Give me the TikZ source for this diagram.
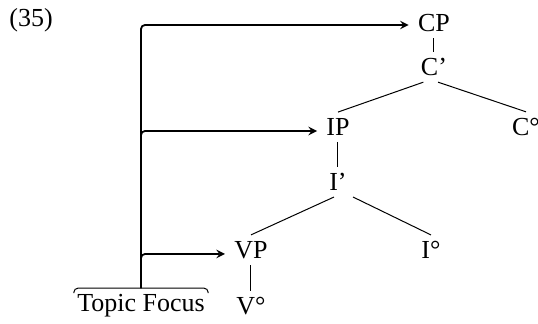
\documentclass[tikz,border=0pt]{standalone}
\usepackage{fontspec}
\setmainfont{Liberation Serif}
\usepackage{tikz}
\usetikzlibrary{arrows, positioning}

\begin{document}
\begin{tikzpicture}[x=0.5pt, y=0.5pt, on grid, >=stealth]
        \tikzstyle{cat} = [inner sep=3pt, font=\fontsize{13}{15}\selectfont]
        \tikzstyle{branch} = [line width=0.5pt]
        \tikzstyle{arrow} = [line width=0.9pt, ->, >=stealth, shorten >=1.5pt, rounded corners=2pt]
        \useasboundingbox (0,0) rectangle (538,-324);

        \node (num) [cat] at (31,-20) {(35)};
        \node (cp) [cat] at (434,-23) {CP};
        \node (c1) [cat, below=22pt of cp] {C’};
        \node (ip) [cat, below left=30pt and 48pt of c1] {IP};
        \node (c0) [cat, below right=30pt and 46pt of c1] {C°};
        \node (i1) [cat, below=27.5pt of ip] {I’};
        \node (vp) [cat, below left=34pt and 43.5pt of i1] {VP};
        \node (i0) [cat, below right=34pt and 46.5pt of i1] {I°};
        \node (v0) [cat, below=28pt of vp] {V°};
        \node (tf) [cat, inner xsep=1.5pt, base left=55pt of v0] {Topic Focus};
        \coordinate (stem) at (tf.north);

        \draw [branch] (cp) -- (c1);
        \draw [branch] (c1.-125) -- (ip.north);
        \draw [branch] (c1.-75) -- (c0.north);
        \draw [branch] (ip) -- (i1);
        \draw [branch] (i1.-105) -- (vp.north);
        \draw [branch] (i1.south east) -- (i0.north);
        \draw [branch] (vp) -- (v0);

        % bracket under the two labels
        \draw [branch, rounded corners=2pt] ([yshift=-2.5pt]tf.north west) |- (stem) -| ([yshift=-2.5pt]tf.north east);
        \draw [arrow] (stem) |- ([yshift=-1pt]cp.west);
        \draw [arrow] (stem) |- ([yshift=-2pt]ip.west);
        \draw [arrow] (stem) |- ([yshift=-2pt]vp.west);
    \end{tikzpicture}
\end{document}
